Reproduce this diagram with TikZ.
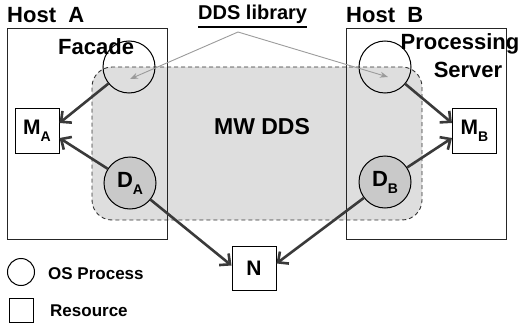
\documentclass[tikz,border=0pt]{standalone}
\usepackage{fontspec}
\setmainfont{Liberation Sans}
\usetikzlibrary{arrows.meta}
\definecolor{mwfill}{HTML}{DEDEDE}
\definecolor{dfill}{HTML}{C9C9C9}
\definecolor{flowgray}{HTML}{3A3A3A}
\definecolor{libgray}{HTML}{9A9A9A}
\newcommand{\fsz}[1]{\fontsize{#1}{#1}\selectfont\bfseries}
\newcommand{\subl}[1]{\raisebox{-7pt}{\fsz{14}#1}}

\begin{document}
\begin{tikzpicture}[x=1pt,y=-1pt,
  hostbox/.style={draw=black!85, line width=1pt, minimum width=160pt, minimum height=210pt, inner sep=0pt},
  osproc/.style={circle, draw=black, line width=1pt, minimum size=52pt, inner sep=0pt},
  ddsproc/.style={osproc, fill=dfill, font=\fsz{22}},
  resource/.style={draw=black, line width=1pt, minimum width=44pt, minimum height=44pt, inner sep=0pt, font=\fsz{21}},
  flow/.style={draw=flowgray, line width=2.6pt, -{Straight Barb[length=8pt,width=15pt]}},
  libarrow/.style={draw=libgray, line width=0.9pt, -{Stealth[length=8pt,width=6pt]}},
  txt/.style={inner sep=0pt, font=\fsz{22}},
]
\useasboundingbox (0,0) rectangle (524,326);

% middleware region shared by both hosts
\node[draw=black!80, dashed, dash pattern=on 4pt off 3pt, line width=0.9pt,
      fill=mwfill, rounded corners=20pt, minimum width=330pt, minimum height=153pt]
      (mw) at (257,143.5) {};
\node[txt, font=\fsz{23}] (mwlbl) at (262,127) {MW DDS};

% hosts
\node[hostbox] (hostA) at (87,134) {};
\node[hostbox] (hostB) at (426,134) {};
\node[txt, anchor=base west] (hostAlbl) at (7,23) {Host\ \ A};
\node[txt, anchor=base west] (hostBlbl) at (346,23) {Host\ \ B};

% processes
\node[osproc] (fac) at (129,67) {};
\node[osproc] (proc) at (385,67) {};
\node[ddsproc] (da) at (130,183) {D\subl{A}};
\node[ddsproc] (db) at (385,182) {D\subl{B}};

% resources
\node[resource] (ma) at (37,131) {M\subl{A}};
\node[resource] (mb) at (474.5,131) {M\subl{B}};
\node[resource] (n) at (254,268.5) {N};

% process names
\node[txt, anchor=base west] (faclbl) at (58,55) {Facade};
\node[txt, anchor=base] (proclbl1) at (460,50) {Processing};
\node[txt, anchor=base] (proclbl2) at (468,78) {Server};

% data flows
\draw[flow] (fac) -- ([yshift=8pt]ma.east);
\draw[flow] (da) -- ([yshift=-7pt]ma.east);
\draw[flow] (da) -- ([yshift=3pt]n.west);
\draw[flow] (proc) -- ([yshift=8pt]mb.west);
\draw[flow] (db) -- ([yshift=-7pt]mb.west);
\draw[flow] (db) -- ([yshift=5pt]n.east);

% library callout
\node[txt, font=\fsz{20}, anchor=base west] (ddslbl) at (198,20) {DDS library};
\draw[line width=1.4pt] ([yshift=-7pt]ddslbl.base west) -- ([yshift=-7pt]ddslbl.base east);
\coordinate (libtip) at (238,32);
\coordinate (facin) at (130,79);
\coordinate (procin) at (388,77);
\draw[libarrow] (libtip) -- (facin);
\draw[libarrow] (libtip) -- (procin);

% legend
\node[osproc, minimum size=27pt] (legproc) at (21,272) {};
\node[txt, font=\fsz{17}, anchor=west] (legproclbl) at (48,274) {OS Process};
\node[resource, minimum width=24pt, minimum height=24pt] (legres) at (21,310) {};
\node[txt, font=\fsz{17}, anchor=west] (legreslbl) at (50,311) {Resource};
\end{tikzpicture}
\end{document}
